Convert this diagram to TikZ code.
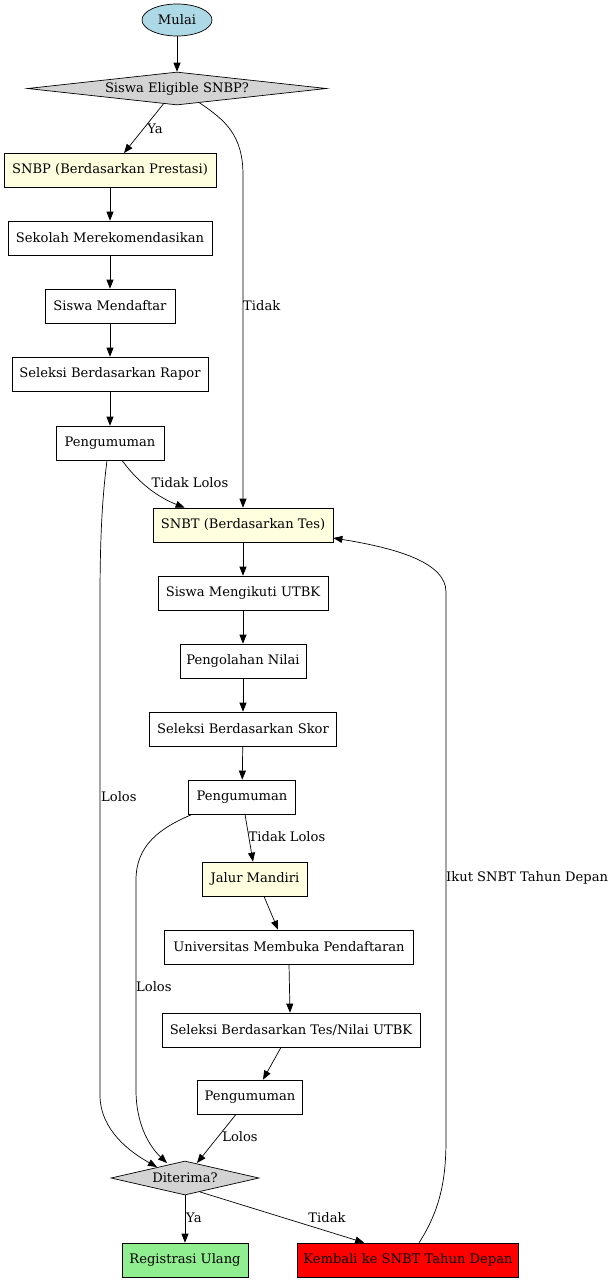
\documentclass[tikz,border=0pt]{standalone}
\usepackage{fontspec}
\setmainfont{DejaVu Serif}
\usetikzlibrary{arrows.meta,shapes.geometric,calc}
\definecolor{lblue}{HTML}{ADD8E6}
\definecolor{lgray}{HTML}{D3D3D3}
\definecolor{lyellow}{HTML}{FFFFE0}
\definecolor{lgreen}{HTML}{90EE90}
\begin{document}
\begin{tikzpicture}[x=1pt,y=-1pt,
  every node/.style={font=\fontsize{13.1}{15}\selectfont},
  box/.style={draw=black,line width=0.7pt,rectangle,inner sep=0pt,minimum height=34pt},
  ybox/.style={box,fill=lyellow},
  dia/.style={draw=black,line width=0.7pt,diamond,fill=lgray,inner sep=0pt},
  arr/.style={-{Triangle[length=9pt,width=7pt]},line width=0.7pt},
  lbl/.style={inner sep=0pt,font=\fontsize{13.1}{15}\selectfont}]
\useasboundingbox (0,0) rectangle (612,1280);
% nodes
\node[draw=black,line width=0.7pt,ellipse,fill=lblue,minimum width=70pt,minimum height=32pt,inner sep=0pt] (start) at (177,20) {Mulai};
\node[dia,minimum width=299pt,minimum height=33pt] (elig) at (177,88.5) {};
\node at (177,88.5) {Siswa Eligible SNBP?};
\node[ybox,minimum width=212pt] (snbp) at (110,170) {SNBP (Berdasarkan Prestasi)};
\node[box,minimum width=204pt] (rek) at (110,238) {Sekolah Merekomendasikan};
\node[box,minimum width=130pt] (daftar) at (110,306) {Siswa Mendaftar};
\node[box,minimum width=196pt] (rapor) at (110,374) {Seleksi Berdasarkan Rapor};
\node[box,minimum width=108pt] (p1) at (110,443) {Pengumuman};
\node[ybox,minimum width=180pt] (snbt) at (243,525) {SNBT (Berdasarkan Tes)};
\node[box,minimum width=170pt] (utbk) at (243,593) {Siswa Mengikuti UTBK};
\node[box,minimum width=126pt] (olah) at (243,661) {Pengolahan Nilai};
\node[box,minimum width=187pt] (skor) at (243,729) {Seleksi Berdasarkan Skor};
\node[box,minimum width=107pt] (p2) at (242,797) {Pengumuman};
\node[ybox,minimum width=105pt] (mandiri) at (255,879) {Jalur Mandiri};
\node[box,minimum width=249pt] (univ) at (289,947) {Universitas Membuka Pendaftaran};
\node[box,minimum width=258pt] (tes) at (291,1030) {Seleksi Berdasarkan Tes/Nilai UTBK};
\node[box,minimum width=105pt] (p3) at (250,1097) {Pengumuman};
\node[dia,minimum width=148pt,minimum height=34pt] (acc) at (185,1178) {};
\node at (185,1178) {Diterima?};
\node[box,fill=lgreen,minimum width=126pt] (reg) at (185,1260) {Registrasi Ulang};
\node[box,fill=red,minimum width=221pt] (back) at (408,1260) {Kembali ke SNBT Tahun Depan};
% coordinates
\coordinate (e1) at ($(elig.south)!0.15!(elig.east)$);
\coordinate (e0) at ($(elig.south)!0.09!(elig.west)$);
% edges
\draw[arr] (start) -- (elig);
\draw[arr] (e0) -- (124,153) coordinate (snbpin);
\node[lbl] (lya1) at (155,129) {Ya};
\draw[arr] (e1) .. controls (225,120) and (243,135) .. (243,175) -- (snbt.north);
\node[lbl,anchor=west] (ltidak1) at (243,306) {Tidak};
\draw[arr] (snbp) -- (rek);
\draw[arr] (rek) -- (daftar);
\draw[arr] (daftar) -- (rapor);
\draw[arr] (rapor) -- (p1);
\coordinate (p1a) at ($(p1.south)+(12,0)$);
\coordinate (snbtin) at ($(snbt.north west)+(32,0)$);
\draw[arr] (p1a) .. controls (140,485) and (160,498) .. (snbtin);
\node[lbl] (ltl1) at (190,483) {Tidak Lolos};
\coordinate (p1b) at ($(p1.south)+(-3,0)$);
\coordinate (accin1) at (157,1167);
\draw[arr] (p1b) .. controls (102,500) and (100,540) .. (100,600) -- (100,1095) .. controls (100,1130) and (130,1152) .. (accin1);
\node[lbl,anchor=west] (ll1) at (101,797) {Lolos};
\draw[arr] (snbt) -- (utbk);
\draw[arr] (utbk) -- (olah);
\draw[arr] (olah) -- (skor);
\draw[arr] (skor) -- (p2);
\coordinate (p2a) at ($(p2.south)+(3,0)$);
\coordinate (mandin) at ($(mandiri.north)+(-2,0)$);
\draw[arr] (p2a) -- (mandin);
\node[lbl] (ltl2) at (287,837) {Tidak Lolos};
\coordinate (p2b) at ($(p2.south west)+(4,0)$);
\coordinate (accin2) at (167,1163);
\draw[arr] (p2b) .. controls (160,828) and (136,845) .. (136,880) -- (136,1090) .. controls (136,1125) and (150,1147) .. (accin2);
\node[lbl,anchor=west] (ll2) at (136,987) {Lolos};
\coordinate (mo) at ($(mandiri.south)+(9,0)$);
\coordinate (ui) at ($(univ.north)+(-11,0)$);
\draw[arr] (mo) -- (ui);
\draw[arr] (univ.south) -- (tes.north -| 290,0);
\coordinate (to) at ($(tes.south)+(-10,0)$);
\coordinate (p3i) at ($(p3.north)+(13,0)$);
\draw[arr] (to) -- (p3i);
\coordinate (p3o) at ($(p3.south)+(-14,0)$);
\coordinate (accin3) at (197,1163);
\draw[arr] (p3o) -- (accin3);
\node[lbl] (ll3) at (240,1137) {Lolos};
\draw[arr] (acc.south) -- (reg.north);
\node[lbl,anchor=west] (lya2) at (186,1218) {Ya};
\coordinate (acco) at ($(acc.south)!0.2!(acc.east)$);
\coordinate (backin) at ($(back.north west)+(67,0)$);
\draw[arr] (acco) -- (backin);
\node[lbl] (lt2) at (327,1218) {Tidak};
\coordinate (backo) at ($(back.north west)+(122,0)$);
\coordinate (snbtr) at ($(snbt.east)+(0,13)$);
\draw[arr] (backo) .. controls (440,1210) and (446,1180) .. (446,1140) -- (446,592) .. controls (446,562) and (395,548) .. (snbtr);
\node[lbl,anchor=west] (lik) at (446,878) {Ikut SNBT Tahun Depan};
\end{tikzpicture}
\end{document}
